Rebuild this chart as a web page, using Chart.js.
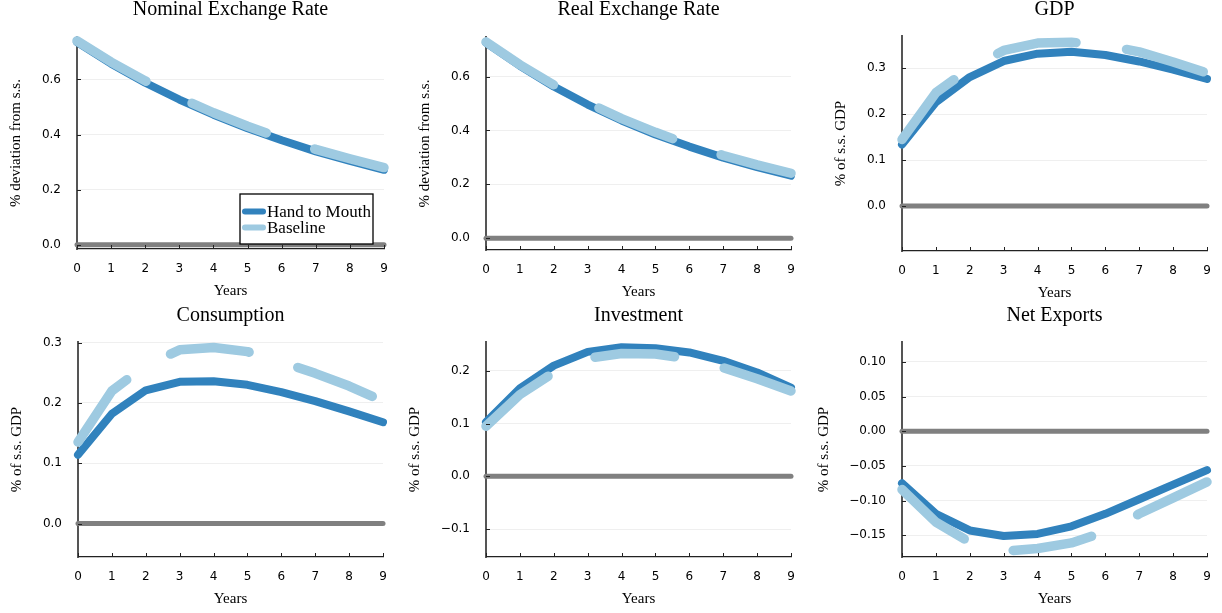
<!DOCTYPE html>
<html>
<head>
<meta charset="utf-8">
<script src="https://cdn.jsdelivr.net/npm/chart.js@4.4.1/dist/chart.umd.min.js"></script>
<style>
  body { margin: 0; background: #fff; width: 1222px; height: 613px; overflow: hidden; position: relative; }
  canvas { position: absolute; }
</style>
</head>
<body>
<canvas id="nominal"></canvas>
<canvas id="real"></canvas>
<canvas id="gdp"></canvas>
<canvas id="consumption"></canvas>
<canvas id="investment"></canvas>
<canvas id="netExports"></canvas>
<script>
const years = [0, 1, 2, 3, 4, 5, 6, 7, 8, 9];
const zeroLine = [0, 0, 0, 0, 0, 0, 0, 0, 0, 0];

const nominalHtm = [0.735, 0.657, 0.588, 0.527, 0.472, 0.423, 0.379, 0.339, 0.304, 0.272];
const nominalBase = [0.740, 0.663, 0.595, 0.534, 0.479, 0.430, 0.386, 0.346, 0.312, 0.280];

const realHtm = [0.726, 0.640, 0.563, 0.496, 0.437, 0.385, 0.340, 0.299, 0.264, 0.232];
const realBase = [0.729, 0.644, 0.569, 0.503, 0.444, 0.393, 0.347, 0.307, 0.272, 0.241];

const gdpHtm = [0.134, 0.226, 0.281, 0.316, 0.332, 0.336, 0.329, 0.315, 0.297, 0.277];
const gdpBase = [0.145, 0.247, 0.300, 0.339, 0.355, 0.357, 0.350, 0.336, 0.314, 0.290];

const consHtm = [0.114, 0.182, 0.221, 0.235, 0.236, 0.230, 0.218, 0.203, 0.186, 0.168];
const consBase = [0.135, 0.220, 0.262, 0.288, 0.292, 0.285, 0.268, 0.249, 0.228, 0.203];

const invHtm = [0.103, 0.167, 0.210, 0.236, 0.245, 0.243, 0.235, 0.219, 0.197, 0.168];
const invBase = [0.095, 0.155, 0.197, 0.224, 0.233, 0.232, 0.223, 0.206, 0.185, 0.162];

const nxHtm = [-0.075, -0.119, -0.143, -0.151, -0.148, -0.137, -0.119, -0.098, -0.077, -0.056];
const nxBase = [-0.084, -0.131, -0.160, -0.173, -0.169, -0.161, -0.145, -0.119, -0.096, -0.073];

const ticksRate = [0, 0.2, 0.4, 0.6];
const ticksGdp = [0, 0.1, 0.2, 0.3];
const ticksInv = [-0.1, 0, 0.1, 0.2];
const ticksNx = [-0.15, -0.10, -0.05, 0, 0.05, 0.10];

const seriesNames = ['Hand to Mouth', 'Baseline'];
const DARK = '#3182bd';
const LIGHT = '#9ecae1';
const ZERO = '#808080';
const SERIF = '"Liberation Serif", "Times New Roman", serif';
const SANS = '"DejaVu Sans", sans-serif';

const YW = 100, XH = 51, RP = 16;

const panels = [
  { id: 'nominal', title: 'Nominal Exchange Rate', ylabel: '% deviation from s.s.', htm: nominalHtm, base: nominalBase,
    ticks: ticksRate, dec: 1, min: -0.0156, max: 0.754, legend: true,
    box: { x0: 77, x1: 384, y0: 37, y1: 249, top: -6, mid: 10, dist: 61 } },
  { id: 'real', title: 'Real Exchange Rate', ylabel: '% deviation from s.s.', htm: realHtm, base: realBase,
    ticks: ticksRate, dec: 1, min: -0.044, max: 0.747,
    box: { x0: 486, x1: 791, y0: 37, y1: 250, top: -6, mid: 10, dist: 61 } },
  { id: 'gdp', title: 'GDP', ylabel: '% of s.s. GDP', htm: gdpHtm, base: gdpBase,
    ticks: ticksGdp, dec: 1, min: -0.098, max: 0.3705,
    box: { x0: 902, x1: 1207, y0: 36, y1: 251, top: -6, mid: 10, dist: 61 } },
  { id: 'consumption', title: 'Consumption', ylabel: '% of s.s. GDP', htm: consHtm, base: consBase,
    ticks: ticksGdp, dec: 1, min: -0.0554, max: 0.301,
    box: { x0: 78, x1: 383, y0: 342, y1: 557, top: 290, mid: 316, dist: 61 } },
  { id: 'investment', title: 'Investment', ylabel: '% of s.s. GDP', htm: invHtm, base: invBase,
    ticks: ticksInv, dec: 1, min: -0.153, max: 0.2548,
    box: { x0: 486, x1: 791, y0: 342, y1: 557, top: 290, mid: 316, dist: 70.5 } },
  { id: 'netExports', title: 'Net Exports', ylabel: '% of s.s. GDP', htm: nxHtm, base: nxBase,
    ticks: ticksNx, dec: 2, min: -0.1813, max: 0.1288,
    box: { x0: 902, x1: 1207, y0: 342, y1: 557, top: 290, mid: 316, dist: 77.5 } }
];

function fmt(v, dec) {
  const s = Math.abs(v).toFixed(dec);
  return v < -1e-9 ? '\u2212' + s : s;
}

// center the title over the plot area instead of the whole canvas
const titleOverPlot = {
  id: 'titleOverPlot',
  afterLayout(chart) {
    const t = chart.titleBlock;
    if (!t) return;
    t.left = chart.chartArea.left;
    t.right = chart.chartArea.right;
    t.width = t.right - t.left;
  }
};

// small inward tick marks, GR style
const innerTicks = {
  id: 'innerTicks',
  afterDatasetsDraw(chart) {
    const { ctx, chartArea: a, scales: { x, y } } = chart;
    ctx.save();
    ctx.strokeStyle = '#222';
    ctx.lineWidth = 1;
    ctx.beginPath();
    x.ticks.forEach((t, i) => {
      const px = Math.round(x.getPixelForTick(i)) + 0.5;
      ctx.moveTo(px, a.bottom);
      ctx.lineTo(px, a.bottom - 4);
    });
    y.ticks.forEach(t => {
      const py = Math.round(y.getPixelForValue(t.value)) + 0.5;
      ctx.moveTo(a.left, py);
      ctx.lineTo(a.left + 4, py);
    });
    ctx.stroke();
    ctx.restore();
  }
};

const boxLegend = {
  id: 'boxLegend',
  afterDraw(chart, args, opts) {
    if (!opts.show) return;
    const { ctx, chartArea: a } = chart;
    const w = 133, h = 50;
    const left = a.right - 11 - w, top = a.bottom - 5 - h;
    ctx.save();
    ctx.fillStyle = '#fff';
    ctx.fillRect(left, top, w, h);
    ctx.strokeStyle = '#000';
    ctx.lineWidth = 1.3;
    ctx.strokeRect(left, top, w, h);
    const items = chart.data.datasets.filter(d => d.label).sort((p, q) => seriesNames.indexOf(p.label) - seriesNames.indexOf(q.label));
    ctx.font = '17px ' + SERIF;
    ctx.textBaseline = 'middle';
    items.forEach((d, i) => {
      const cy = top + 17.5 + i * 16;
      ctx.strokeStyle = d.borderColor;
      ctx.lineWidth = 6;
      ctx.lineCap = 'round';
      ctx.beginPath();
      ctx.moveTo(left + 5, cy);
      ctx.lineTo(left + 23, cy);
      ctx.stroke();
      ctx.fillStyle = '#000';
      ctx.fillText(d.label, left + 27, cy + 1);
    });
    ctx.restore();
  }
};

function makePanel(p) {
  const b = p.box;
  const canvas = document.getElementById(p.id);
  const w = b.x1 - b.x0 + YW + RP;
  const h = b.y1 - b.top + XH;
  canvas.width = w;
  canvas.height = h;
  canvas.style.left = (b.x0 - YW) + 'px';
  canvas.style.top = b.top + 'px';
  canvas.style.width = w + 'px';
  canvas.style.height = h + 'px';

  const tpTop = b.mid - b.top - 12;
  const tpBottom = b.y0 - b.top - 24 - tpTop;

  return new Chart(canvas, {
    type: 'line',
    data: {
      labels: years.map(String),
      datasets: [
        { label: seriesNames[1], data: p.base, borderColor: LIGHT, borderWidth: 9.5, borderDash: [80, 51],
          borderCapStyle: 'round', borderJoinStyle: 'round', pointRadius: 0, tension: 0, clip: false, order: 0 },
        { label: seriesNames[0], data: p.htm, borderColor: DARK, borderWidth: 8,
          borderCapStyle: 'round', borderJoinStyle: 'round', pointRadius: 0, tension: 0, clip: false, order: 1 },
        { label: '', data: zeroLine, borderColor: ZERO, borderWidth: 5,
          borderCapStyle: 'round', pointRadius: 0, tension: 0, clip: false, order: 2 }
      ]
    },
    options: {
      responsive: false,
      animation: false,
      devicePixelRatio: 1,
      layout: { padding: { left: 0, right: RP, top: 0, bottom: 0 } },
      plugins: {
        legend: { display: false },
        tooltip: { enabled: false },
        title: {
          display: true,
          text: p.title,
          color: '#000',
          font: { family: SERIF, size: 20, weight: 'normal', lineHeight: 1.2 },
          padding: { top: tpTop, bottom: tpBottom }
        },
        boxLegend: { show: !!p.legend }
      },
      scales: {
        x: {
          type: 'category',
          offset: false,
          grid: { display: false },
          border: { display: true, color: '#222', width: 1.3 },
          ticks: { color: '#000', font: { family: SANS, size: 12 }, padding: 5, maxRotation: 0, autoSkip: false },
          title: { display: true, text: 'Years', color: '#000', font: { family: SERIF, size: 15, lineHeight: 1.2 },
            padding: { top: 0, bottom: 0 } },
          afterFit(scale) { scale.height = XH; }
        },
        y: {
          type: 'linear',
          min: p.min,
          max: p.max,
          grid: { color: '#efefef', lineWidth: 1, drawTicks: false },
          border: { display: true, color: '#555', width: 2 },
          ticks: { color: '#000', font: { family: SANS, size: 12 }, padding: 16,
            callback: v => fmt(v, p.dec) },
          afterBuildTicks(scale) { scale.ticks = p.ticks.map(v => ({ value: v })); },
          title: { display: true, text: p.ylabel, color: '#000', font: { family: SERIF, size: 15, lineHeight: 1.2 },
            padding: { top: YW - b.dist - 9, bottom: 0 } },
          afterFit(scale) { scale.width = YW; }
        }
      }
    },
    plugins: [titleOverPlot, innerTicks, boxLegend]
  });
}

panels.forEach(makePanel);
</script>
</body>
</html>
